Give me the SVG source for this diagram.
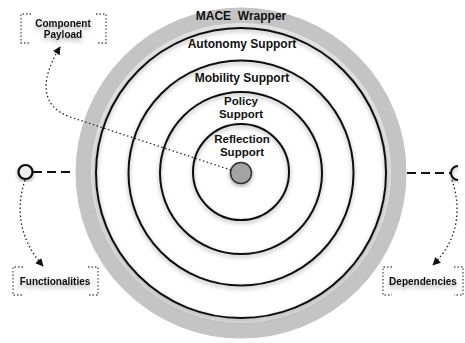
<svg xmlns="http://www.w3.org/2000/svg" width="465" height="343" viewBox="0 0 465 343">
  <defs>
    <filter id="shade" x="-20%" y="-20%" width="140%" height="140%">
      <feDropShadow dx="0" dy="2" stdDeviation="2" flood-color="#000" flood-opacity="0.35"/>
    </filter>
    <filter id="textShade" x="-20%" y="-50%" width="140%" height="200%">
      <feDropShadow dx="0" dy="3" stdDeviation="2" flood-color="#000" flood-opacity="0.35"/>
    </filter>
    <marker id="arrow" viewBox="0 0 10 10" refX="9" refY="5" markerWidth="8" markerHeight="8" markerUnits="userSpaceOnUse" orient="auto">
      <path d="M0,0 L10,5 L0,10 z" fill="#111"/>
    </marker>
    <style>
      .ring { fill: none; stroke: #111; stroke-width: 2; filter: url(#shade); }
      .layer { font-family: "Liberation Sans", Arial, sans-serif; font-weight: bold; font-size: 12px; fill: #111; text-anchor: middle; }
      .stack { font-size: 11.5px; }
      .label { font-family: "Liberation Sans", Arial, sans-serif; font-weight: bold; font-size: 10px; fill: #111; text-anchor: middle; filter: url(#textShade); }
      .bracket { fill: none; stroke: #555; stroke-width: 1.3; stroke-dasharray: 1.5 2; }
      .dash { fill: none; stroke: #111; stroke-width: 2; stroke-dasharray: 9 5; }
      .dots { fill: none; stroke: #222; stroke-width: 1.3; stroke-dasharray: 1.5 2.5; }
    </style>
  </defs>

  <rect width="465" height="343" fill="#fff"/>

  <!-- outer wrapper band -->
  <g id="mace-wrapper">
    <circle cx="241" cy="173" r="157.5" fill="none" stroke="#c4c4c4" stroke-width="16"/>
    <circle cx="241" cy="173" r="147.5" fill="none" stroke="#e3e3e3" stroke-width="5"/>
    <text class="layer" x="241" y="20" xml:space="preserve">MACE  Wrapper</text>
  </g>

  <g id="autonomy-support">
    <circle class="ring" cx="241" cy="173" r="145"/>
    <text class="layer" x="242" y="48">Autonomy Support</text>
  </g>

  <g id="mobility-support">
    <circle class="ring" cx="241" cy="173" r="112.5"/>
    <text class="layer" x="242" y="82">Mobility Support</text>
  </g>

  <g id="policy-support">
    <circle class="ring" cx="241" cy="173" r="81"/>
    <text class="layer stack" x="241" y="104.5">Policy</text>
    <text class="layer stack" x="241" y="117.5">Support</text>
  </g>

  <g id="reflection-support">
    <circle class="ring" cx="241" cy="172" r="48"/>
    <text class="layer stack" x="242" y="142.5">Reflection</text>
    <text class="layer stack" x="242" y="155.5">Support</text>
  </g>

  <g id="core">
    <circle cx="241" cy="173" r="10.5" fill="#a3a3a3" stroke="#333" stroke-width="1.5" filter="url(#shade)"/>
  </g>

  <!-- provided interface (ball) -->
  <g id="provided-port">
    <circle cx="25.5" cy="172" r="7" fill="#eee" stroke="#111" stroke-width="2.2" filter="url(#shade)"/>
  </g>

  <!-- required interface (socket) -->
  <g id="required-port">
    <path d="M458,166 A7,7 0 0 0 458,180" fill="none" stroke="#111" stroke-width="2" filter="url(#shade)"/>
  </g>

  <g id="component-payload">
    <path class="bracket" d="M31,14 H21 V43 H31"/>
    <path class="bracket" d="M96,14 H106 V43 H96"/>
    <text class="label" x="63" y="27">Component</text>
    <text class="label" x="63" y="38">Payload</text>
  </g>

  <g id="functionalities">
    <path class="bracket" d="M23,267 H13 V295 H24"/>
    <path class="bracket" d="M88,267 H98 V295 H88"/>
    <text class="label" x="55" y="285">Functionalities</text>
  </g>

  <g id="dependencies">
    <path class="bracket" d="M392,267 H383 V295 H392"/>
    <path class="bracket" d="M454,267 H463 V295 H454"/>
    <text class="label" x="423" y="285">Dependencies</text>
  </g>

  <g id="connectors">
    <path class="dash" d="M33,172 H75"/>
    <path class="dash" d="M407,173 H451"/>
    <path class="dots" d="M231,170 L70,117 C40,106 40,80 60,47" marker-end="url(#arrow)"/>
    <path class="dots" d="M25,180 C15,210 20,240 43,266" marker-end="url(#arrow)"/>
    <path class="dots" d="M452,180 C462,210 458,240 433,265" marker-end="url(#arrow)"/>
  </g>
</svg>
